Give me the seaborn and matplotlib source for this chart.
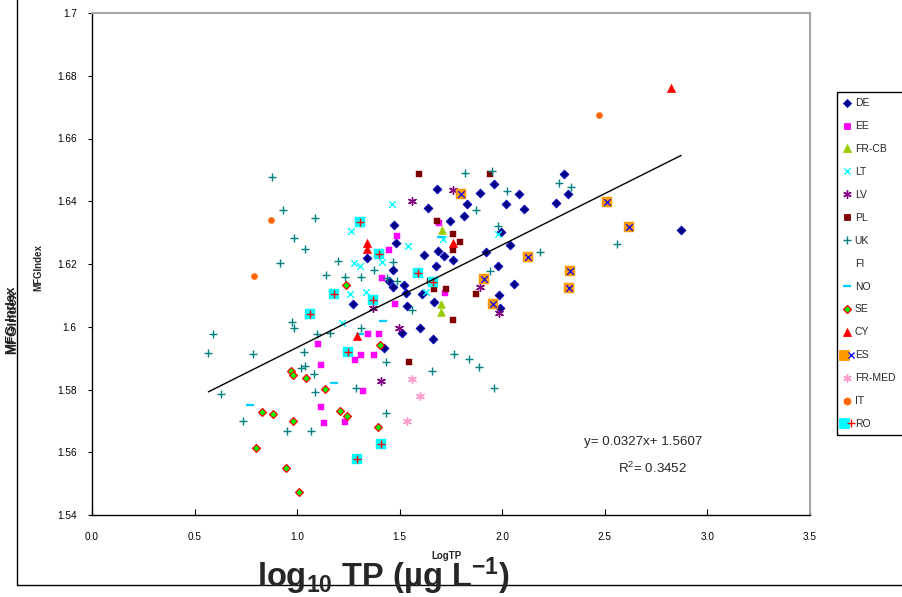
import matplotlib
matplotlib.use("Agg")
import matplotlib.pyplot as plt
import seaborn as sns
import pandas as pd
from matplotlib.lines import Line2D
from matplotlib.legend_handler import HandlerTuple

sns.set_theme(style="ticks")
plt.rcParams['font.family'] = ['Liberation Sans', 'DejaVu Sans']
plt.rcParams['mathtext.fontset'] = 'custom'
plt.rcParams['mathtext.rm'] = 'Liberation Sans'
plt.rcParams['mathtext.it'] = 'Liberation Sans:italic'
plt.rcParams['mathtext.bf'] = 'Liberation Sans:bold'

# ---------------- data (log10 TP, MFG index) ----------------
de_x = [1.640, 1.470, 1.483, 1.340, 1.620, 1.467, 1.450, 1.467, 1.519, 1.530, 1.610, 1.272, 1.535, 1.600,
        2.299, 2.319, 2.262, 1.684, 1.889, 1.961, 2.083, 1.828, 2.016, 2.107, 1.813, 1.743, 1.994, 2.039,
        1.686, 1.714, 1.762, 1.922, 2.872, 1.677, 1.977, 2.059, 1.665, 1.982, 1.990, 1.511, 1.660, 1.421]
de_y = [1.6378, 1.6324, 1.6268, 1.6219, 1.6229, 1.6181, 1.6146, 1.6128, 1.6133, 1.6108, 1.6104, 1.6074, 1.6067, 1.5995,
        1.6486, 1.6422, 1.6395, 1.6438, 1.6427, 1.6454, 1.6422, 1.6391, 1.6391, 1.6375, 1.6353, 1.6338, 1.6303, 1.6259,
        1.6243, 1.6226, 1.6213, 1.6238, 1.6307, 1.6194, 1.6194, 1.6136, 1.6078, 1.6101, 1.6059, 1.5979, 1.5961, 1.5931]

ee_x = [1.486, 1.447, 1.415, 1.478, 1.691, 1.720, 1.345, 1.400, 1.104, 1.312, 1.376, 1.283, 1.116, 1.320,
        1.117, 1.234, 1.132]
ee_y = [1.6290, 1.6245, 1.6156, 1.6071, 1.6330, 1.6108, 1.5977, 1.5977, 1.5945, 1.5910, 1.5910, 1.5894, 1.5878, 1.5795,
        1.5745, 1.5697, 1.5694]

frcb_x = [1.704, 1.702, 1.702]
frcb_y = [1.6307, 1.6074, 1.6048]

lt_x = [1.463, 1.263, 1.541, 1.275, 1.307, 1.413, 1.259, 1.337, 1.221, 1.711, 1.979, 1.629]
lt_y = [1.6390, 1.6306, 1.6256, 1.6204, 1.6194, 1.6207, 1.6104, 1.6112, 1.6011, 1.6279, 1.6296, 1.6110]

lv_x = [1.562, 1.369, 1.498, 1.760, 1.893, 1.982, 1.408]
lv_y = [1.6402, 1.6060, 1.5997, 1.6436, 1.6128, 1.6043, 1.5828]

pl_x = [1.592, 1.938, 1.683, 1.758, 1.792, 1.758, 1.649, 1.665, 1.727, 1.873, 1.758, 1.543]
pl_y = [1.6486, 1.6486, 1.6337, 1.6295, 1.6271, 1.6245, 1.6147, 1.6120, 1.6120, 1.6104, 1.6020, 1.5887]

uk_x = [0.877, 0.930, 1.086, 0.985, 1.040, 0.914, 1.197, 1.465, 1.376, 1.143, 1.233, 1.311, 1.438, 1.489,
        1.560, 0.977, 1.312, 0.985, 1.816, 1.950, 2.278, 2.335, 2.023, 1.870, 1.977, 2.182, 2.560, 1.941,
        0.592, 0.567, 0.787, 1.099, 1.034, 1.039, 1.020, 1.080, 0.628, 1.088, 0.738, 0.950, 1.068, 1.158,
        1.434, 1.767, 1.836, 1.888, 1.657, 1.288, 1.958, 1.434]
uk_y = [1.6477, 1.6372, 1.6346, 1.6282, 1.6247, 1.6204, 1.6209, 1.6207, 1.6180, 1.6164, 1.6157, 1.6158, 1.6154, 1.6145,
        1.6053, 1.6016, 1.5995, 1.5995, 1.6489, 1.6497, 1.6458, 1.6446, 1.6433, 1.6371, 1.6321, 1.6239, 1.6263, 1.6179,
        1.5976, 1.5917, 1.5912, 1.5977, 1.5921, 1.5875, 1.5870, 1.5849, 1.5786, 1.5793, 1.5701, 1.5669, 1.5669, 1.5979,
        1.5887, 1.5912, 1.5897, 1.5873, 1.5859, 1.5804, 1.5804, 1.5725]

no_x = [1.418, 1.701, 1.307, 0.771, 1.180]
no_y = [1.6017, 1.6286, 1.5977, 1.5750, 1.5821]

se_x = [1.238, 0.969, 0.979, 1.042, 1.137, 0.831, 0.881, 0.982, 0.800, 0.946, 1.008, 1.405, 1.210, 1.242, 1.392]
se_y = [1.6133, 1.5860, 1.5846, 1.5838, 1.5801, 1.5729, 1.5722, 1.5700, 1.5613, 1.5549, 1.5474, 1.5942, 1.5733, 1.5717, 1.5680]

cy_x = [1.340, 1.340, 1.762, 1.291, 2.824]
cy_y = [1.6268, 1.6247, 1.6266, 1.5971, 1.6761]

es_x = [1.797, 2.127, 2.511, 2.616, 2.332, 2.324, 1.912, 1.955]
es_y = [1.6422, 1.6221, 1.6397, 1.6317, 1.6179, 1.6123, 1.6151, 1.6072]

frmed_x = [1.560, 1.600, 1.535]
frmed_y = [1.5833, 1.5780, 1.5701]

it_x = [0.872, 0.790, 2.473]
it_y = [1.6339, 1.6163, 1.6675]

ro_x = [1.307, 1.399, 1.590, 1.180, 1.372, 1.063, 1.662, 1.247, 1.410, 1.294]
ro_y = [1.6335, 1.6231, 1.6171, 1.6104, 1.6084, 1.6042, 1.6144, 1.5920, 1.5626, 1.5578]

fit_slope = 0.0327
fit_intercept = 1.5607
r_squared = 0.3452

x_ticks = [0.0, 0.5, 1.0, 1.5, 2.0, 2.5, 3.0, 3.5]
x_tick_labels = ["0.0", "0.5", "1.0", "1.5", "2.0", "2.5", "3.0", "3.5"]
y_ticks = [1.54, 1.56, 1.58, 1.60, 1.62, 1.64, 1.66, 1.68, 1.70]
y_tick_labels = ["1.54", "1.56", "1.58", "1.6", "1.62", "1.64", "1.66", "1.68", "1.7"]

# ---------------- figure ----------------
W, H = 902, 597
fig = plt.figure(figsize=(W / 100, H / 100), dpi=100)
fig.patch.set_facecolor('white')
ax = fig.add_axes([92 / W, 1 - 515 / H, (810 - 92) / W, (515 - 13) / H])
ax.set_facecolor('white')

NO_MARK = [(-1, -0.35), (1, -0.35), (1, 0.35), (-1, 0.35)]
STAR = (6, 2, 0)


def sc(xs, ys, **kw):
    sns.scatterplot(x=xs, y=ys, ax=ax, legend=False, **kw)


sc(de_x, de_y, marker='D', s=20, color='#000080', edgecolor='#0000CC', linewidth=0.6, zorder=3)
sc(ee_x, ee_y, marker='s', s=20, color='#FF00FF', edgecolor='#FF00FF', linewidth=0.3, zorder=3)
sc(frcb_x, frcb_y, marker='^', s=30, color='#99CC00', edgecolor='#99CC00', linewidth=0.5, zorder=3)
sc(lt_x, lt_y, marker='x', s=22, color='#00FFFF', linewidth=1.0, zorder=3)
sc(lv_x, lv_y, marker=STAR, s=32, color='#800080', linewidth=1.0, zorder=3)
sc(pl_x, pl_y, marker='s', s=24, color='#800000', edgecolor='#800000', linewidth=0.3, zorder=3)
sc(uk_x, uk_y, marker='+', s=40, color='#008080', linewidth=1.0, zorder=3)
sc(no_x, no_y, marker=NO_MARK, s=30, color='#00CCFF', edgecolor='#00CCFF', linewidth=0.2, zorder=3)
sc(se_x, se_y, marker='D', s=16, color='#00FF00', edgecolor='#FF0000', linewidth=0.9, zorder=3)
sc(cy_x, cy_y, marker='^', s=34, color='#FF0000', edgecolor='#FF0000', linewidth=0.5, zorder=3)
sc(es_x, es_y, marker='s', s=55, color='#FF9900', edgecolor='#FF9900', linewidth=0.3, zorder=3)
sc(es_x, es_y, marker='x', s=22, color='#0000FF', linewidth=0.9, zorder=4)
sc(frmed_x, frmed_y, marker=STAR, s=32, color='#FF99CC', linewidth=1.0, zorder=3)
sc(it_x, it_y, marker='o', s=20, color='#FF6600', edgecolor='#FF6600', linewidth=0.3, zorder=3)
sc(ro_x, ro_y, marker='s', s=55, color='#00FFFF', edgecolor='#00FFFF', linewidth=0.3, zorder=3)
sc(ro_x, ro_y, marker='+', s=40, color='#FF0000', linewidth=1.0, zorder=4)

# trend line over the range of the data
all_x = de_x + ee_x + frcb_x + lt_x + lv_x + pl_x + uk_x + no_x + se_x + cy_x + es_x + frmed_x + it_x + ro_x
x0, x1 = min(all_x), max(all_x)
fit_df = pd.DataFrame({'x': [x0, x1], 'y': [fit_slope * x0 + fit_intercept, fit_slope * x1 + fit_intercept]})
sns.lineplot(data=fit_df, x='x', y='y', ax=ax, color='black', linewidth=1.0, zorder=5)
ax.set_xlabel('')
ax.set_ylabel('')

ax.set_xlim(0, 3.5)
ax.set_ylim(1.54, 1.70)
ax.set_xticks(x_ticks)
ax.set_xticklabels(x_tick_labels)
ax.set_yticks(y_ticks)
ax.set_yticklabels(y_tick_labels)
ax.tick_params(axis='x', direction='in', length=4, width=0.8, pad=12, labelsize=7.2, colors='black',
               bottom=True, top=False)
ax.tick_params(axis='y', direction='out', length=3, width=0.8, pad=8, labelsize=7.2, colors='black',
               left=True, right=False)
for side in ['left', 'bottom']:
    ax.spines[side].set_color('black')
    ax.spines[side].set_linewidth(1.0)
for side in ['top', 'right']:
    ax.spines[side].set_visible(True)
    ax.spines[side].set_color('#a6a6a6')
    ax.spines[side].set_linewidth(1.5)

# equation
fig.text(584 / W, 1 - 442 / H, f"y= {fit_slope}x+ {fit_intercept}", fontsize=9.6, ha='left', va='center')
fig.text(618 / W, 1 - 468 / H, f"R$^{{2}}$= {r_squared}", fontsize=9.6, ha='left', va='center')

# legend
def mk(marker, fc, ec, ms, mew=0.6):
    return Line2D([], [], linestyle='none', marker=marker, markerfacecolor=fc, markeredgecolor=ec,
                  markersize=ms, markeredgewidth=mew)

handles = [
    mk('D', '#000080', '#0000CC', 4.2),
    mk('s', '#FF00FF', '#FF00FF', 4.5),
    mk('^', '#99CC00', '#99CC00', 5.5),
    mk('x', 'none', '#00FFFF', 5, 1.0),
    mk(STAR, 'none', '#800080', 6, 1.0),
    mk('s', '#800000', '#800000', 5),
    mk('+', 'none', '#008080', 6, 1.0),
    Line2D([], [], linestyle='none'),
    mk(NO_MARK, '#00CCFF', '#00CCFF', 6, 0.2),
    mk('D', '#00FF00', '#FF0000', 4, 0.9),
    mk('^', '#FF0000', '#FF0000', 6),
    (mk('s', '#FF9900', '#FF9900', 7), mk('x', 'none', '#0000FF', 4.5, 0.9)),
    mk(STAR, 'none', '#FF99CC', 6, 1.0),
    mk('o', '#FF6600', '#FF6600', 5),
    (mk('s', '#00FFFF', '#00FFFF', 7), mk('+', 'none', '#FF0000', 6, 1.0)),
]
labels = ['DE', 'EE', 'FR-CB', 'LT', 'LV', 'PL', 'UK', 'FI', 'NO', 'SE', 'CY', 'ES', 'FR-MED', 'IT', 'RO']
leg = ax.legend(handles, labels, loc='upper left', bbox_to_anchor=(837 / W, 1 - 92 / H, 0.1, 0.0),
                bbox_transform=fig.transFigure, mode='expand', frameon=True, fancybox=False,
                edgecolor='black', framealpha=1, fontsize=7.5, handlelength=0.8, handletextpad=0.3,
                labelspacing=1.24, borderpad=0.6, borderaxespad=0,
                handler_map={tuple: HandlerTuple(ndivide=None)})
leg.get_frame().set_linewidth(1.0)

# outer chart frame
fig.add_artist(Line2D([17 / W, 17 / W], [1.0, 1 - 585 / H], color='black', linewidth=1.0))
fig.add_artist(Line2D([17 / W, 1.0], [1 - 585 / H, 1 - 585 / H], color='black', linewidth=1.0))

# axis titles
fig.text(38 / W, 1 - 268 / H, 'MFGIndex', rotation=90, fontsize=7, fontweight='bold', ha='center', va='center')
fig.text(12 / W, 1 - 320 / H, 'MFG Index', rotation=90, fontsize=9.5, fontweight='bold', ha='center', va='center')
fig.text(13 / W, 1 - 322 / H, 'MFGIndex', rotation=90, fontsize=9.5, fontweight='bold', ha='center', va='center')
fig.text(447 / W, 1 - 556 / H, 'LogTP', fontsize=7, fontweight='bold', ha='center', va='center')
fig.text(383 / W, 1 - 587 / H, r'log$_{\mathbf{10}}$ TP (µg L$^{\mathbf{-1}}$)', fontsize=23.5, fontweight='bold',
         ha='center', va='baseline')

fig.savefig('out.png', dpi=100)
